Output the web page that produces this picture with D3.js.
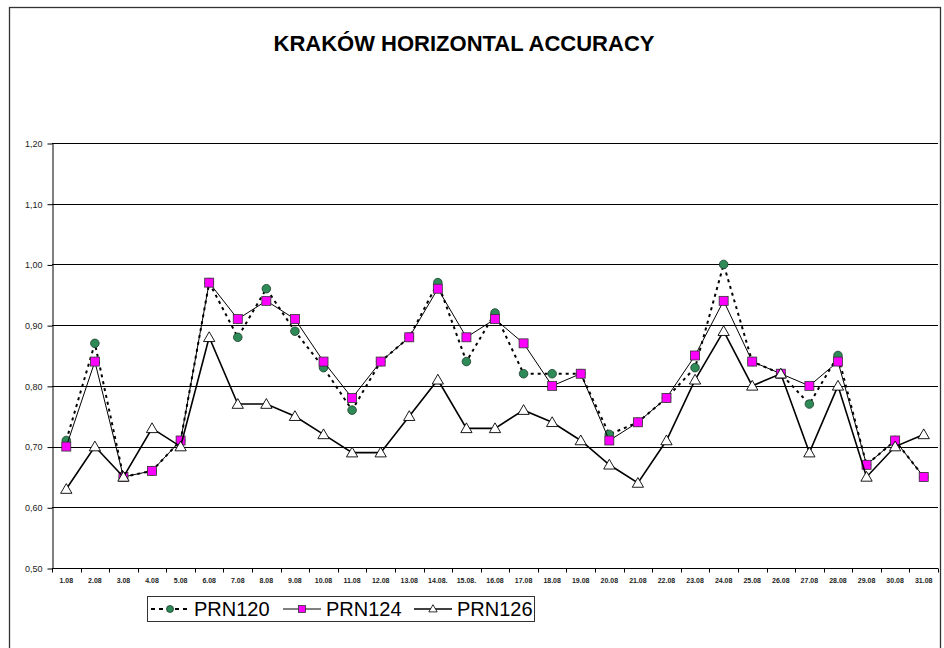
<!DOCTYPE html>
<html>
<head>
<meta charset="utf-8">
<script src="https://d3js.org/d3.v7.min.js"></script>
<style>
  body { margin: 0; background: #fff; }
  svg { font-family: Arial, "Liberation Sans", sans-serif; }
</style>
</head>
<body>
<div id="chart"></div>
<script>
// data
var days = ["1.08","2.08","3.08","4.08","5.08","6.08","7.08","8.08","9.08","10.08",
            "11.08","12.08","13.08","14.08.","15.08.","16.08","17.08","18.08","19.08","20.08",
            "21.08","22.08","23.08","24.08","25.08","26.08","27.08","28.08","29.08","30.08","31.08"];
var prn120 = [0.71,0.87,0.65,0.66,0.71,0.97,0.88,0.96,0.89,0.83,
              0.76,0.84,0.88,0.97,0.84,0.92,0.82,0.82,0.82,0.72,
              0.74,0.78,0.83,1.00,0.84,0.82,0.77,0.85,0.67,0.71,0.65];
var prn124 = [0.70,0.84,0.65,0.66,0.71,0.97,0.91,0.94,0.91,0.84,
              0.78,0.84,0.88,0.96,0.88,0.91,0.87,0.80,0.82,0.71,
              0.74,0.78,0.85,0.94,0.84,0.82,0.80,0.84,0.67,0.71,0.65];
var prn126 = [0.63,0.70,0.65,0.73,0.70,0.88,0.77,0.77,0.75,0.72,
              0.69,0.69,0.75,0.81,0.73,0.73,0.76,0.74,0.71,0.67,
              0.64,0.71,0.81,0.89,0.80,0.82,0.69,0.80,0.65,0.70,0.72];
var yTicks = [0.5,0.6,0.7,0.8,0.9,1.0,1.1,1.2];
var seriesNames = ["PRN120","PRN124","PRN126"];

var W = 944, H = 648;
var svg = d3.select("#chart").append("svg")
  .attr("width", W).attr("height", H);

// outer chart frame
svg.append("rect")
  .attr("x", 9.5).attr("y", 7.5)
  .attr("width", 931).attr("height", 650)
  .attr("fill", "none").attr("stroke", "#333").attr("stroke-width", 1.3);

svg.append("text")
  .attr("x", 464).attr("y", 51)
  .attr("text-anchor", "middle")
  .attr("font-size", 22).attr("font-weight", "bold")
  .text("KRAKÓW HORIZONTAL ACCURACY");

var x = d3.scaleBand().domain(days).range([52, 938]).padding(0);
var y = d3.scaleLinear().domain([0.5, 1.2]).range([568, 143]);
var cx = function(d, i) { return x(days[i]) + x.bandwidth() / 2; };

// gridlines
svg.append("g").selectAll("line")
  .data(yTicks.slice(1))
  .join("line")
    .attr("x1", 52).attr("x2", 938)
    .attr("y1", function(d) { return Math.round(y(d)) + 0.5; })
    .attr("y2", function(d) { return Math.round(y(d)) + 0.5; })
    .attr("stroke", "#000").attr("stroke-width", 1);

// y axis
var fmt = d3.formatLocale({decimal: ",", thousands: ".", grouping: [3], currency: ["", ""]}).format(".2f");
var yAxis = svg.append("g")
  .attr("transform", "translate(52.5,0.5)")
  .call(d3.axisLeft(y).tickValues(yTicks).tickFormat(fmt).tickSize(5).tickSizeOuter(0));
yAxis.select(".domain").attr("stroke", "#000");
yAxis.selectAll("text").attr("font-size", 9).attr("fill", "#222")
  .attr("font-family", "Arial, 'Liberation Sans', sans-serif").attr("dx", -2);

// x axis: labels at band centres, ticks at band edges
var xAxis = svg.append("g").attr("transform", "translate(0,568.5)");
xAxis.append("line").attr("x1", 52).attr("x2", 938).attr("stroke", "#000");
xAxis.selectAll("line.tk")
  .data(days.concat(["end"]))
  .join("line").attr("class", "tk")
    .attr("x1", function(d, i) { return Math.round(i < days.length ? x(d) : 938) + 0.5; })
    .attr("x2", function(d, i) { return Math.round(i < days.length ? x(d) : 938) + 0.5; })
    .attr("y1", 0).attr("y2", 4)
    .attr("stroke", "#000");
xAxis.selectAll("text")
  .data(days)
  .join("text")
    .attr("x", cx).attr("y", 14)
    .attr("text-anchor", "middle")
    .attr("font-size", 7).attr("font-weight", "bold").attr("fill", "#222")
    .text(function(d) { return d; });

var line = d3.line().x(cx).y(function(d) { return y(d); });

// PRN120: dotted line, green circles
svg.append("path").datum(prn120)
  .attr("d", line).attr("fill", "none")
  .attr("stroke", "#000").attr("stroke-width", 2).attr("stroke-dasharray", "3,4");
svg.append("g").selectAll("circle")
  .data(prn120).join("circle")
    .attr("cx", cx).attr("cy", function(d) { return y(d); })
    .attr("r", 4.3)
    .attr("fill", "#2e8b57").attr("stroke", "#1a3a2a").attr("stroke-width", 0.8);

// PRN124: thin solid line, magenta squares
svg.append("path").datum(prn124)
  .attr("d", line).attr("fill", "none")
  .attr("stroke", "#000").attr("stroke-width", 1);
svg.append("g").selectAll("rect")
  .data(prn124).join("rect")
    .attr("x", function(d, i) { return cx(d, i) - 4.5; })
    .attr("y", function(d) { return y(d) - 4.5; })
    .attr("width", 9).attr("height", 9)
    .attr("fill", "#ff00ff").attr("stroke", "#333").attr("stroke-width", 0.8);

// PRN126: solid line, white triangles
svg.append("path").datum(prn126)
  .attr("d", line).attr("fill", "none")
  .attr("stroke", "#000").attr("stroke-width", 1.6);
var tri = d3.symbol().type(d3.symbolTriangle).size(55);
svg.append("g").selectAll("path")
  .data(prn126).join("path")
    .attr("transform", function(d, i) { return "translate(" + cx(d, i) + "," + (y(d) + 1) + ")"; })
    .attr("d", tri)
    .attr("fill", "#fff").attr("stroke", "#000").attr("stroke-width", 0.9);

// legend
var lg = svg.append("g");
lg.append("rect")
  .attr("x", 147.5).attr("y", 596.5).attr("width", 387).attr("height", 25)
  .attr("fill", "#fff").attr("stroke", "#333").attr("stroke-width", 1);
var legendX = [151, 283, 414];
seriesNames.forEach(function(name, k) {
  var x0 = legendX[k], ly = 609;
  var g = lg.append("g");
  g.append("line").attr("x1", x0).attr("x2", x0 + 38).attr("y1", ly).attr("y2", ly)
    .attr("stroke", "#000")
    .attr("stroke-width", k === 0 ? 2 : (k === 1 ? 1 : 1.4))
    .attr("stroke-dasharray", k === 0 ? "4,4" : null);
  var mx = x0 + 19;
  if (k === 0) {
    g.append("circle").attr("cx", mx).attr("cy", ly).attr("r", 3.5)
      .attr("fill", "#2e8b57").attr("stroke", "#1a3a2a").attr("stroke-width", 0.8);
  } else if (k === 1) {
    g.append("rect").attr("x", mx - 3.5).attr("y", ly - 3.5).attr("width", 7).attr("height", 7)
      .attr("fill", "#ff00ff").attr("stroke", "#333").attr("stroke-width", 0.8);
  } else {
    g.append("path").attr("transform", "translate(" + mx + "," + (ly + 0.5) + ")")
      .attr("d", d3.symbol().type(d3.symbolTriangle).size(30))
      .attr("fill", "#fff").attr("stroke", "#000").attr("stroke-width", 0.8);
  }
  g.append("text").attr("x", x0 + 43).attr("y", ly + 7)
    .attr("font-size", 20).attr("fill", "#000").text(name);
});
</script>
</body>
</html>
